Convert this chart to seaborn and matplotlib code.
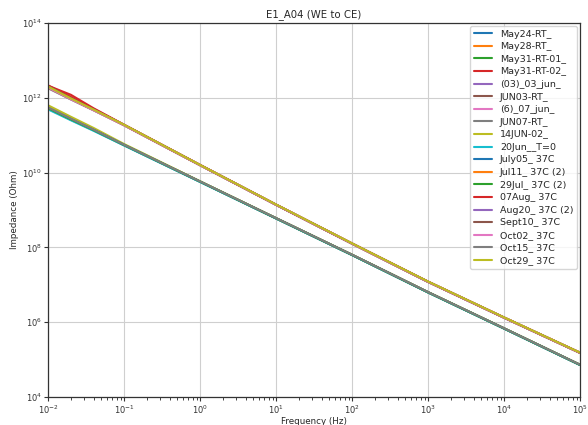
import matplotlib
matplotlib.use("Agg")
import matplotlib.pyplot as plt
import seaborn as sns
import numpy as np
from matplotlib.ticker import LogLocator, NullLocator, NullFormatter

# Frequency points (Hz)
freq = [0.01, 0.02, 0.04, 0.1, 1, 10, 100, 1e3, 1e4, 1e5]

series_names = [
    "May24-RT_", "May28-RT_", "May31-RT-01_", "May31-RT-02_", "(03)_03_jun_",
    "JUN03-RT_", "(6)_07_jun_", "JUN07-RT_", "14JUN-02_", "20Jun__T=0",
    "July05_ 37C", "Jul11_ 37C (2)", "29Jul_ 37C (2)", "07Aug_ 37C",
    "Aug20_ 37C (2)", "Sept10_ 37C", "Oct02_ 37C", "Oct15_ 37C", "Oct29_ 37C",
]

# Impedance (Ohm)
z_may24 = [5.3e11, 2.65e11, 1.36e11, 5.45e10, 5.7e9, 5.95e8, 6.25e7, 6.25e6, 6.75e5, 7.15e4]
z_may28 = [5.6e11, 2.8e11, 1.42e11, 5.6e10, 5.8e9, 6.05e8, 6.35e7, 6.35e6, 6.85e5, 7.25e4]
z_may31_01 = [5.2e11, 2.6e11, 1.34e11, 5.4e10, 5.7e9, 5.95e8, 6.25e7, 6.25e6, 6.75e5, 7.15e4]
z_may31_02 = [2.1e12, 1.2e12, 5.2e11, 1.9e11, 1.6e10, 1.39e9, 1.27e8, 1.21e7, 1.33e6, 1.52e5]
z_03jun = [5.1e11, 2.6e11, 1.35e11, 5.45e10, 5.7e9, 6.0e8, 6.3e7, 6.3e6, 6.8e5, 7.2e4]
z_jun03 = [2.0e12, 1.0e12, 4.9e11, 1.88e11, 1.59e10, 1.38e9, 1.26e8, 1.2e7, 1.32e6, 1.51e5]
z_07jun = [1.85e12, 9.1e11, 4.6e11, 1.84e11, 1.57e10, 1.37e9, 1.25e8, 1.19e7, 1.31e6, 1.5e5]
z_jun07 = [1.8e12, 9.0e11, 4.6e11, 1.84e11, 1.57e10, 1.37e9, 1.25e8, 1.19e7, 1.31e6, 1.5e5]
z_14jun = [6.3e11, 3.1e11, 1.55e11, 5.8e10, 5.85e9, 6.05e8, 6.35e7, 6.35e6, 6.85e5, 7.25e4]
z_20jun = [4.9e11, 2.5e11, 1.3e11, 5.3e10, 5.6e9, 5.9e8, 6.2e7, 6.2e6, 6.7e5, 7.1e4]
z_jul05 = [5.4e11, 2.7e11, 1.38e11, 5.5e10, 5.75e9, 6.0e8, 6.3e7, 6.3e6, 6.8e5, 7.2e4]
z_jul11 = [1.9e12, 9.3e11, 4.7e11, 1.86e11, 1.58e10, 1.38e9, 1.26e8, 1.2e7, 1.32e6, 1.51e5]
z_jul29 = [5.3e11, 2.65e11, 1.37e11, 5.5e10, 5.75e9, 6.0e8, 6.3e7, 6.3e6, 6.8e5, 7.2e4]
z_aug07 = [2.15e12, 1.05e12, 5.0e11, 1.9e11, 1.6e10, 1.39e9, 1.27e8, 1.21e7, 1.33e6, 1.52e5]
z_aug20 = [1.95e12, 9.3e11, 4.7e11, 1.86e11, 1.58e10, 1.38e9, 1.26e8, 1.2e7, 1.32e6, 1.51e5]
z_sep10 = [2.05e12, 9.8e11, 4.8e11, 1.87e11, 1.59e10, 1.38e9, 1.26e8, 1.2e7, 1.32e6, 1.51e5]
z_oct02 = [1.9e12, 9.2e11, 4.65e11, 1.85e11, 1.58e10, 1.38e9, 1.26e8, 1.2e7, 1.32e6, 1.51e5]
z_oct15 = [5.5e11, 2.75e11, 1.4e11, 5.55e10, 5.8e9, 6.05e8, 6.35e7, 6.35e6, 6.85e5, 7.25e4]
z_oct29 = [2.0e12, 9.6e11, 4.8e11, 1.9e11, 1.6e10, 1.4e9, 1.28e8, 1.22e7, 1.34e6, 1.53e5]

series_values = [
    z_may24, z_may28, z_may31_01, z_may31_02, z_03jun, z_jun03, z_07jun, z_jun07,
    z_14jun, z_20jun, z_jul05, z_jul11, z_jul29, z_aug07, z_aug20, z_sep10,
    z_oct02, z_oct15, z_oct29,
]

sns.set_style("ticks")
plt.rcParams['font.family'] = ['DejaVu Sans']

palette = sns.color_palette("tab10", 10)

fig = plt.figure(figsize=(5.88, 4.25), dpi=100)
ax = fig.add_axes([0.0816, 0.066, 0.905, 0.880])
ax.set_xscale("log")
ax.set_yscale("log")

for i, (name, vals) in enumerate(zip(series_names, series_values)):
    sns.lineplot(x=freq, y=vals, color=palette[i % 10], label=name, ax=ax,
                 linewidth=1.5, sort=False)

ax.set_xlim(1e-2, 1e5)
ax.set_ylim(1e4, 1e14)
ax.set_yticks([1e4, 1e6, 1e8, 1e10, 1e12, 1e14])
ax.yaxis.set_minor_locator(NullLocator())
ax.yaxis.set_minor_formatter(NullFormatter())
ax.xaxis.set_major_locator(LogLocator(base=10, numticks=20))
ax.xaxis.set_minor_locator(LogLocator(base=10, subs=np.arange(2, 10), numticks=20))
ax.xaxis.set_minor_formatter(NullFormatter())
ax.grid(True, which="major", color="#cfcfcf", linewidth=0.8)
ax.tick_params(axis="both", which="major", labelsize=6, length=3, width=0.8,
               pad=1.5, colors="#333333")
ax.tick_params(axis="x", which="minor", length=1.8, width=0.6)
for s in ax.spines.values():
    s.set_color("#333333")
    s.set_linewidth(0.9)

ax.set_title("E1_A04 (WE to CE)", fontsize=7.3, pad=4)
ax.set_xlabel("Frequency (Hz)", fontsize=6.3, labelpad=1)
ax.set_ylabel("Impedance (Ohm)", fontsize=6.3, labelpad=2)

leg = ax.legend(loc="upper right", fontsize=6.8, labelspacing=0.38, handlelength=2.0,
                borderaxespad=0.3, frameon=True)

fig.savefig("out.png", dpi=100)
